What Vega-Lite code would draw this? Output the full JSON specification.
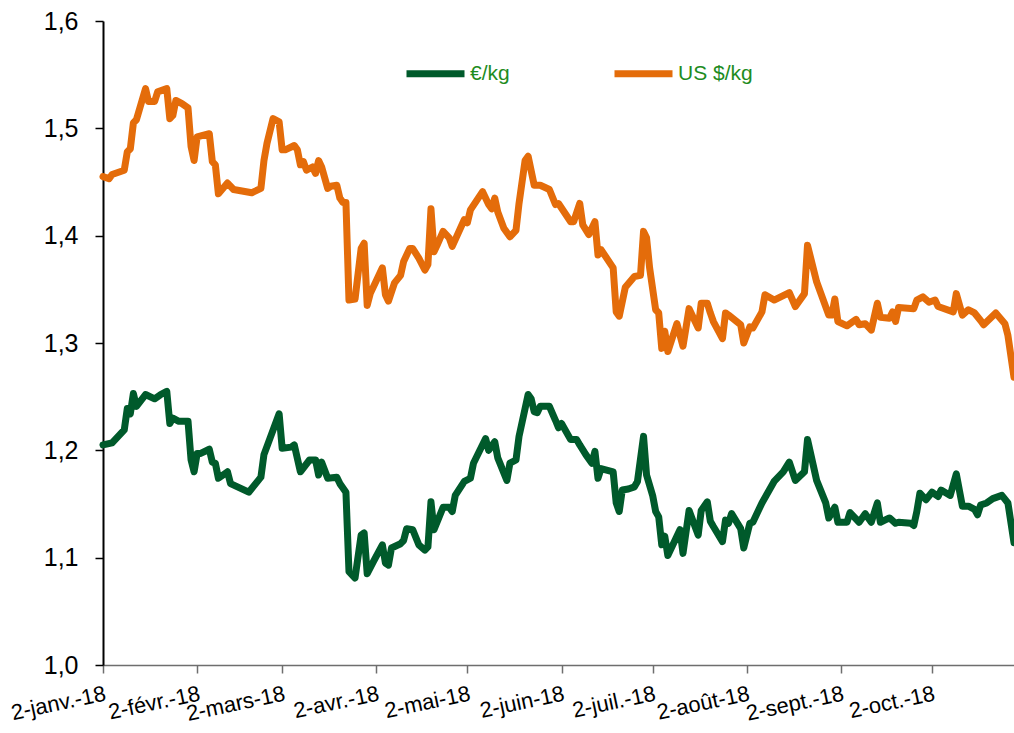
{
  "$schema": "https://vega.github.io/schema/vega-lite/v6.json",
  "width": 911,
  "height": 644,
  "autosize": {"type": "none"},
  "padding": {"left": 103, "top": 21, "right": 0, "bottom": 68},
  "background": "white",
  "config": {"view": {"stroke": null}, "font": "Liberation Sans"},
  "data": {"values": [
{"series":"US $/kg","date":"2018-01-02","value":1.455},{"series":"US $/kg","date":"2018-01-04","value":1.453},{"series":"US $/kg","date":"2018-01-05","value":1.457},{"series":"US $/kg","date":"2018-01-09","value":1.461},{"series":"US $/kg","date":"2018-01-10","value":1.478},{"series":"US $/kg","date":"2018-01-11","value":1.481},{"series":"US $/kg","date":"2018-01-12","value":1.505},{"series":"US $/kg","date":"2018-01-13","value":1.508},{"series":"US $/kg","date":"2018-01-16","value":1.537},{"series":"US $/kg","date":"2018-01-17","value":1.525},{"series":"US $/kg","date":"2018-01-19","value":1.525},{"series":"US $/kg","date":"2018-01-20","value":1.534},{"series":"US $/kg","date":"2018-01-23","value":1.537},{"series":"US $/kg","date":"2018-01-24","value":1.509},{"series":"US $/kg","date":"2018-01-25","value":1.512},{"series":"US $/kg","date":"2018-01-26","value":1.526},{"series":"US $/kg","date":"2018-01-28","value":1.523},{"series":"US $/kg","date":"2018-01-30","value":1.519},{"series":"US $/kg","date":"2018-01-31","value":1.483},{"series":"US $/kg","date":"2018-02-01","value":1.470},{"series":"US $/kg","date":"2018-02-02","value":1.492},{"series":"US $/kg","date":"2018-02-06","value":1.495},{"series":"US $/kg","date":"2018-02-07","value":1.469},{"series":"US $/kg","date":"2018-02-08","value":1.466},{"series":"US $/kg","date":"2018-02-09","value":1.439},{"series":"US $/kg","date":"2018-02-12","value":1.449},{"series":"US $/kg","date":"2018-02-14","value":1.443},{"series":"US $/kg","date":"2018-02-20","value":1.440},{"series":"US $/kg","date":"2018-02-23","value":1.444},{"series":"US $/kg","date":"2018-02-24","value":1.470},{"series":"US $/kg","date":"2018-02-25","value":1.486},{"series":"US $/kg","date":"2018-02-27","value":1.509},{"series":"US $/kg","date":"2018-03-01","value":1.506},{"series":"US $/kg","date":"2018-03-02","value":1.480},{"series":"US $/kg","date":"2018-03-03","value":1.480},{"series":"US $/kg","date":"2018-03-06","value":1.484},{"series":"US $/kg","date":"2018-03-07","value":1.480},{"series":"US $/kg","date":"2018-03-08","value":1.466},{"series":"US $/kg","date":"2018-03-09","value":1.469},{"series":"US $/kg","date":"2018-03-10","value":1.461},{"series":"US $/kg","date":"2018-03-12","value":1.464},{"series":"US $/kg","date":"2018-03-13","value":1.458},{"series":"US $/kg","date":"2018-03-14","value":1.470},{"series":"US $/kg","date":"2018-03-15","value":1.464},{"series":"US $/kg","date":"2018-03-17","value":1.444},{"series":"US $/kg","date":"2018-03-18","value":1.446},{"series":"US $/kg","date":"2018-03-20","value":1.447},{"series":"US $/kg","date":"2018-03-21","value":1.435},{"series":"US $/kg","date":"2018-03-22","value":1.431},{"series":"US $/kg","date":"2018-03-23","value":1.431},{"series":"US $/kg","date":"2018-03-24","value":1.340},{"series":"US $/kg","date":"2018-03-26","value":1.341},{"series":"US $/kg","date":"2018-03-28","value":1.388},{"series":"US $/kg","date":"2018-03-29","value":1.393},{"series":"US $/kg","date":"2018-03-30","value":1.335},{"series":"US $/kg","date":"2018-03-31","value":1.346},{"series":"US $/kg","date":"2018-04-04","value":1.370},{"series":"US $/kg","date":"2018-04-05","value":1.345},{"series":"US $/kg","date":"2018-04-06","value":1.339},{"series":"US $/kg","date":"2018-04-08","value":1.356},{"series":"US $/kg","date":"2018-04-10","value":1.363},{"series":"US $/kg","date":"2018-04-11","value":1.376},{"series":"US $/kg","date":"2018-04-13","value":1.388},{"series":"US $/kg","date":"2018-04-14","value":1.388},{"series":"US $/kg","date":"2018-04-16","value":1.379},{"series":"US $/kg","date":"2018-04-18","value":1.368},{"series":"US $/kg","date":"2018-04-19","value":1.373},{"series":"US $/kg","date":"2018-04-20","value":1.425},{"series":"US $/kg","date":"2018-04-21","value":1.385},{"series":"US $/kg","date":"2018-04-22","value":1.391},{"series":"US $/kg","date":"2018-04-24","value":1.404},{"series":"US $/kg","date":"2018-04-26","value":1.398},{"series":"US $/kg","date":"2018-04-27","value":1.390},{"series":"US $/kg","date":"2018-05-01","value":1.415},{"series":"US $/kg","date":"2018-05-02","value":1.412},{"series":"US $/kg","date":"2018-05-03","value":1.424},{"series":"US $/kg","date":"2018-05-07","value":1.441},{"series":"US $/kg","date":"2018-05-09","value":1.429},{"series":"US $/kg","date":"2018-05-10","value":1.425},{"series":"US $/kg","date":"2018-05-11","value":1.435},{"series":"US $/kg","date":"2018-05-12","value":1.422},{"series":"US $/kg","date":"2018-05-14","value":1.407},{"series":"US $/kg","date":"2018-05-16","value":1.399},{"series":"US $/kg","date":"2018-05-18","value":1.405},{"series":"US $/kg","date":"2018-05-19","value":1.430},{"series":"US $/kg","date":"2018-05-21","value":1.470},{"series":"US $/kg","date":"2018-05-22","value":1.474},{"series":"US $/kg","date":"2018-05-24","value":1.447},{"series":"US $/kg","date":"2018-05-26","value":1.447},{"series":"US $/kg","date":"2018-05-29","value":1.443},{"series":"US $/kg","date":"2018-05-31","value":1.429},{"series":"US $/kg","date":"2018-06-01","value":1.430},{"series":"US $/kg","date":"2018-06-05","value":1.413},{"series":"US $/kg","date":"2018-06-06","value":1.413},{"series":"US $/kg","date":"2018-06-08","value":1.430},{"series":"US $/kg","date":"2018-06-09","value":1.410},{"series":"US $/kg","date":"2018-06-11","value":1.401},{"series":"US $/kg","date":"2018-06-13","value":1.413},{"series":"US $/kg","date":"2018-06-14","value":1.382},{"series":"US $/kg","date":"2018-06-15","value":1.387},{"series":"US $/kg","date":"2018-06-19","value":1.370},{"series":"US $/kg","date":"2018-06-20","value":1.329},{"series":"US $/kg","date":"2018-06-21","value":1.325},{"series":"US $/kg","date":"2018-06-23","value":1.352},{"series":"US $/kg","date":"2018-06-26","value":1.362},{"series":"US $/kg","date":"2018-06-28","value":1.363},{"series":"US $/kg","date":"2018-06-29","value":1.404},{"series":"US $/kg","date":"2018-06-30","value":1.398},{"series":"US $/kg","date":"2018-07-01","value":1.370},{"series":"US $/kg","date":"2018-07-03","value":1.331},{"series":"US $/kg","date":"2018-07-04","value":1.328},{"series":"US $/kg","date":"2018-07-05","value":1.295},{"series":"US $/kg","date":"2018-07-06","value":1.311},{"series":"US $/kg","date":"2018-07-07","value":1.292},{"series":"US $/kg","date":"2018-07-10","value":1.318},{"series":"US $/kg","date":"2018-07-12","value":1.297},{"series":"US $/kg","date":"2018-07-14","value":1.332},{"series":"US $/kg","date":"2018-07-17","value":1.314},{"series":"US $/kg","date":"2018-07-18","value":1.337},{"series":"US $/kg","date":"2018-07-20","value":1.337},{"series":"US $/kg","date":"2018-07-21","value":1.328},{"series":"US $/kg","date":"2018-07-22","value":1.320},{"series":"US $/kg","date":"2018-07-25","value":1.304},{"series":"US $/kg","date":"2018-07-26","value":1.328},{"series":"US $/kg","date":"2018-07-27","value":1.326},{"series":"US $/kg","date":"2018-07-31","value":1.317},{"series":"US $/kg","date":"2018-08-01","value":1.300},{"series":"US $/kg","date":"2018-08-03","value":1.315},{"series":"US $/kg","date":"2018-08-04","value":1.314},{"series":"US $/kg","date":"2018-08-07","value":1.329},{"series":"US $/kg","date":"2018-08-08","value":1.345},{"series":"US $/kg","date":"2018-08-11","value":1.340},{"series":"US $/kg","date":"2018-08-16","value":1.347},{"series":"US $/kg","date":"2018-08-18","value":1.334},{"series":"US $/kg","date":"2018-08-21","value":1.346},{"series":"US $/kg","date":"2018-08-22","value":1.391},{"series":"US $/kg","date":"2018-08-25","value":1.357},{"series":"US $/kg","date":"2018-08-29","value":1.326},{"series":"US $/kg","date":"2018-08-30","value":1.326},{"series":"US $/kg","date":"2018-08-31","value":1.341},{"series":"US $/kg","date":"2018-09-01","value":1.320},{"series":"US $/kg","date":"2018-09-04","value":1.316},{"series":"US $/kg","date":"2018-09-05","value":1.318},{"series":"US $/kg","date":"2018-09-07","value":1.322},{"series":"US $/kg","date":"2018-09-08","value":1.317},{"series":"US $/kg","date":"2018-09-10","value":1.318},{"series":"US $/kg","date":"2018-09-12","value":1.312},{"series":"US $/kg","date":"2018-09-14","value":1.337},{"series":"US $/kg","date":"2018-09-15","value":1.324},{"series":"US $/kg","date":"2018-09-18","value":1.323},{"series":"US $/kg","date":"2018-09-19","value":1.329},{"series":"US $/kg","date":"2018-09-20","value":1.320},{"series":"US $/kg","date":"2018-09-21","value":1.333},{"series":"US $/kg","date":"2018-09-26","value":1.332},{"series":"US $/kg","date":"2018-09-27","value":1.340},{"series":"US $/kg","date":"2018-09-29","value":1.343},{"series":"US $/kg","date":"2018-10-01","value":1.338},{"series":"US $/kg","date":"2018-10-03","value":1.340},{"series":"US $/kg","date":"2018-10-04","value":1.334},{"series":"US $/kg","date":"2018-10-09","value":1.329},{"series":"US $/kg","date":"2018-10-10","value":1.346},{"series":"US $/kg","date":"2018-10-12","value":1.326},{"series":"US $/kg","date":"2018-10-14","value":1.331},{"series":"US $/kg","date":"2018-10-16","value":1.328},{"series":"US $/kg","date":"2018-10-18","value":1.321},{"series":"US $/kg","date":"2018-10-19","value":1.317},{"series":"US $/kg","date":"2018-10-23","value":1.328},{"series":"US $/kg","date":"2018-10-26","value":1.318},{"series":"US $/kg","date":"2018-10-27","value":1.307},{"series":"US $/kg","date":"2018-10-29","value":1.268},
{"series":"€/kg","date":"2018-01-02","value":1.205},{"series":"€/kg","date":"2018-01-05","value":1.207},{"series":"€/kg","date":"2018-01-06","value":1.210},{"series":"€/kg","date":"2018-01-09","value":1.219},{"series":"€/kg","date":"2018-01-10","value":1.239},{"series":"€/kg","date":"2018-01-11","value":1.234},{"series":"€/kg","date":"2018-01-12","value":1.253},{"series":"€/kg","date":"2018-01-13","value":1.241},{"series":"€/kg","date":"2018-01-16","value":1.252},{"series":"€/kg","date":"2018-01-19","value":1.248},{"series":"€/kg","date":"2018-01-21","value":1.252},{"series":"€/kg","date":"2018-01-23","value":1.255},{"series":"€/kg","date":"2018-01-24","value":1.225},{"series":"€/kg","date":"2018-01-25","value":1.230},{"series":"€/kg","date":"2018-01-27","value":1.227},{"series":"€/kg","date":"2018-01-30","value":1.227},{"series":"€/kg","date":"2018-01-31","value":1.191},{"series":"€/kg","date":"2018-02-01","value":1.180},{"series":"€/kg","date":"2018-02-02","value":1.197},{"series":"€/kg","date":"2018-02-03","value":1.197},{"series":"€/kg","date":"2018-02-06","value":1.201},{"series":"€/kg","date":"2018-02-07","value":1.189},{"series":"€/kg","date":"2018-02-08","value":1.188},{"series":"€/kg","date":"2018-02-09","value":1.174},{"series":"€/kg","date":"2018-02-12","value":1.180},{"series":"€/kg","date":"2018-02-13","value":1.169},{"series":"€/kg","date":"2018-02-19","value":1.161},{"series":"€/kg","date":"2018-02-23","value":1.175},{"series":"€/kg","date":"2018-02-24","value":1.196},{"series":"€/kg","date":"2018-03-01","value":1.234},{"series":"€/kg","date":"2018-03-02","value":1.202},{"series":"€/kg","date":"2018-03-05","value":1.203},{"series":"€/kg","date":"2018-03-06","value":1.205},{"series":"€/kg","date":"2018-03-08","value":1.180},{"series":"€/kg","date":"2018-03-11","value":1.191},{"series":"€/kg","date":"2018-03-13","value":1.191},{"series":"€/kg","date":"2018-03-14","value":1.177},{"series":"€/kg","date":"2018-03-15","value":1.189},{"series":"€/kg","date":"2018-03-17","value":1.174},{"series":"€/kg","date":"2018-03-20","value":1.175},{"series":"€/kg","date":"2018-03-21","value":1.169},{"series":"€/kg","date":"2018-03-23","value":1.161},{"series":"€/kg","date":"2018-03-24","value":1.087},{"series":"€/kg","date":"2018-03-26","value":1.081},{"series":"€/kg","date":"2018-03-28","value":1.121},{"series":"€/kg","date":"2018-03-29","value":1.123},{"series":"€/kg","date":"2018-03-30","value":1.085},{"series":"€/kg","date":"2018-04-01","value":1.096},{"series":"€/kg","date":"2018-04-04","value":1.112},{"series":"€/kg","date":"2018-04-05","value":1.095},{"series":"€/kg","date":"2018-04-06","value":1.093},{"series":"€/kg","date":"2018-04-07","value":1.109},{"series":"€/kg","date":"2018-04-10","value":1.113},{"series":"€/kg","date":"2018-04-11","value":1.116},{"series":"€/kg","date":"2018-04-12","value":1.127},{"series":"€/kg","date":"2018-04-14","value":1.126},{"series":"€/kg","date":"2018-04-16","value":1.112},{"series":"€/kg","date":"2018-04-18","value":1.107},{"series":"€/kg","date":"2018-04-19","value":1.110},{"series":"€/kg","date":"2018-04-20","value":1.152},{"series":"€/kg","date":"2018-04-21","value":1.126},{"series":"€/kg","date":"2018-04-24","value":1.147},{"series":"€/kg","date":"2018-04-26","value":1.147},{"series":"€/kg","date":"2018-04-27","value":1.143},{"series":"€/kg","date":"2018-04-28","value":1.158},{"series":"€/kg","date":"2018-05-01","value":1.171},{"series":"€/kg","date":"2018-05-03","value":1.174},{"series":"€/kg","date":"2018-05-04","value":1.188},{"series":"€/kg","date":"2018-05-08","value":1.211},{"series":"€/kg","date":"2018-05-09","value":1.200},{"series":"€/kg","date":"2018-05-11","value":1.208},{"series":"€/kg","date":"2018-05-12","value":1.193},{"series":"€/kg","date":"2018-05-15","value":1.172},{"series":"€/kg","date":"2018-05-16","value":1.188},{"series":"€/kg","date":"2018-05-18","value":1.191},{"series":"€/kg","date":"2018-05-19","value":1.213},{"series":"€/kg","date":"2018-05-22","value":1.252},{"series":"€/kg","date":"2018-05-23","value":1.248},{"series":"€/kg","date":"2018-05-24","value":1.236},{"series":"€/kg","date":"2018-05-25","value":1.235},{"series":"€/kg","date":"2018-05-26","value":1.241},{"series":"€/kg","date":"2018-05-29","value":1.241},{"series":"€/kg","date":"2018-05-31","value":1.228},{"series":"€/kg","date":"2018-06-01","value":1.221},{"series":"€/kg","date":"2018-06-02","value":1.225},{"series":"€/kg","date":"2018-06-05","value":1.210},{"series":"€/kg","date":"2018-06-07","value":1.210},{"series":"€/kg","date":"2018-06-08","value":1.205},{"series":"€/kg","date":"2018-06-10","value":1.196},{"series":"€/kg","date":"2018-06-12","value":1.188},{"series":"€/kg","date":"2018-06-13","value":1.199},{"series":"€/kg","date":"2018-06-14","value":1.174},{"series":"€/kg","date":"2018-06-15","value":1.183},{"series":"€/kg","date":"2018-06-19","value":1.180},{"series":"€/kg","date":"2018-06-20","value":1.151},{"series":"€/kg","date":"2018-06-21","value":1.143},{"series":"€/kg","date":"2018-06-22","value":1.163},{"series":"€/kg","date":"2018-06-24","value":1.164},{"series":"€/kg","date":"2018-06-26","value":1.166},{"series":"€/kg","date":"2018-06-27","value":1.171},{"series":"€/kg","date":"2018-06-29","value":1.213},{"series":"€/kg","date":"2018-06-30","value":1.177},{"series":"€/kg","date":"2018-07-02","value":1.158},{"series":"€/kg","date":"2018-07-03","value":1.143},{"series":"€/kg","date":"2018-07-04","value":1.138},{"series":"€/kg","date":"2018-07-05","value":1.112},{"series":"€/kg","date":"2018-07-06","value":1.120},{"series":"€/kg","date":"2018-07-07","value":1.102},{"series":"€/kg","date":"2018-07-11","value":1.126},{"series":"€/kg","date":"2018-07-12","value":1.104},{"series":"€/kg","date":"2018-07-14","value":1.144},{"series":"€/kg","date":"2018-07-17","value":1.121},{"series":"€/kg","date":"2018-07-18","value":1.144},{"series":"€/kg","date":"2018-07-20","value":1.152},{"series":"€/kg","date":"2018-07-21","value":1.134},{"series":"€/kg","date":"2018-07-22","value":1.129},{"series":"€/kg","date":"2018-07-25","value":1.115},{"series":"€/kg","date":"2018-07-26","value":1.135},{"series":"€/kg","date":"2018-07-27","value":1.132},{"series":"€/kg","date":"2018-07-28","value":1.141},{"series":"€/kg","date":"2018-07-31","value":1.127},{"series":"€/kg","date":"2018-08-01","value":1.109},{"series":"€/kg","date":"2018-08-03","value":1.132},{"series":"€/kg","date":"2018-08-04","value":1.133},{"series":"€/kg","date":"2018-08-07","value":1.151},{"series":"€/kg","date":"2018-08-11","value":1.171},{"series":"€/kg","date":"2018-08-14","value":1.180},{"series":"€/kg","date":"2018-08-16","value":1.189},{"series":"€/kg","date":"2018-08-18","value":1.172},{"series":"€/kg","date":"2018-08-21","value":1.180},{"series":"€/kg","date":"2018-08-22","value":1.210},{"series":"€/kg","date":"2018-08-25","value":1.172},{"series":"€/kg","date":"2018-08-28","value":1.151},{"series":"€/kg","date":"2018-08-29","value":1.137},{"series":"€/kg","date":"2018-08-31","value":1.147},{"series":"€/kg","date":"2018-09-01","value":1.133},{"series":"€/kg","date":"2018-09-04","value":1.133},{"series":"€/kg","date":"2018-09-05","value":1.142},{"series":"€/kg","date":"2018-09-08","value":1.133},{"series":"€/kg","date":"2018-09-10","value":1.141},{"series":"€/kg","date":"2018-09-12","value":1.133},{"series":"€/kg","date":"2018-09-14","value":1.151},{"series":"€/kg","date":"2018-09-15","value":1.133},{"series":"€/kg","date":"2018-09-18","value":1.137},{"series":"€/kg","date":"2018-09-20","value":1.132},{"series":"€/kg","date":"2018-09-21","value":1.133},{"series":"€/kg","date":"2018-09-25","value":1.132},{"series":"€/kg","date":"2018-09-26","value":1.130},{"series":"€/kg","date":"2018-09-27","value":1.143},{"series":"€/kg","date":"2018-09-28","value":1.160},{"series":"€/kg","date":"2018-09-30","value":1.154},{"series":"€/kg","date":"2018-10-02","value":1.161},{"series":"€/kg","date":"2018-10-04","value":1.157},{"series":"€/kg","date":"2018-10-05","value":1.163},{"series":"€/kg","date":"2018-10-08","value":1.158},{"series":"€/kg","date":"2018-10-10","value":1.178},{"series":"€/kg","date":"2018-10-12","value":1.148},{"series":"€/kg","date":"2018-10-14","value":1.148},{"series":"€/kg","date":"2018-10-16","value":1.145},{"series":"€/kg","date":"2018-10-17","value":1.140},{"series":"€/kg","date":"2018-10-18","value":1.149},{"series":"€/kg","date":"2018-10-20","value":1.151},{"series":"€/kg","date":"2018-10-22","value":1.155},{"series":"€/kg","date":"2018-10-25","value":1.158},{"series":"€/kg","date":"2018-10-27","value":1.151},{"series":"€/kg","date":"2018-10-29","value":1.114}
  ]},
  "mark": {"type": "line", "strokeWidth": 7, "strokeJoin": "round", "strokeCap": "round"},
  "encoding": {
    "x": {
      "field": "date",
      "type": "temporal",
      "scale": {
        "type": "utc",
        "domain": [
          {"year": 2018, "month": 1, "date": 2, "utc": true},
          {"year": 2018, "month": 10, "date": 29, "utc": true}
        ]
      },
      "axis": {
        "title": null,
        "grid": false,
        "values": [
          {"year": 2018, "month": 1, "date": 2, "utc": true},
          {"year": 2018, "month": 2, "date": 2, "utc": true},
          {"year": 2018, "month": 3, "date": 2, "utc": true},
          {"year": 2018, "month": 4, "date": 2, "utc": true},
          {"year": 2018, "month": 5, "date": 2, "utc": true},
          {"year": 2018, "month": 6, "date": 2, "utc": true},
          {"year": 2018, "month": 7, "date": 2, "utc": true},
          {"year": 2018, "month": 8, "date": 2, "utc": true},
          {"year": 2018, "month": 9, "date": 2, "utc": true},
          {"year": 2018, "month": 10, "date": 2, "utc": true}
        ],
        "labelExpr": "utcdate(datum.value) + '-' + ['janv.','févr.','mars','avr.','mai','juin','juil.','août','sept.','oct.','nov.','déc.'][utcmonth(datum.value)] + '-18'",
        "labelAngle": -12,
        "labelAlign": "right",
        "labelBaseline": "top",
        "labelFontSize": 22,
        "labelFont": "Liberation Sans",
        "labelColor": "#000000",
        "labelPadding": 10,
        "labelOverlap": false,
        "labelFlush": false,
        "labelBound": false,
        "tickSize": 8,
        "tickWidth": 1.5,
        "tickColor": "#6e6e6e",
        "domainColor": "#6e6e6e",
        "domainWidth": 1.5
      }
    },
    "y": {
      "field": "value",
      "type": "quantitative",
      "scale": {"domain": [1.0, 1.6], "nice": false, "zero": false},
      "axis": {
        "title": null,
        "grid": false,
        "values": [1.0, 1.1, 1.2, 1.3, 1.4, 1.5, 1.6],
        "labelExpr": "replace(format(datum.value, '.1f'), '.', ',')",
        "labelFontSize": 25,
        "labelFont": "Liberation Sans",
        "labelColor": "#000000",
        "labelPadding": 17,
        "tickSize": 8,
        "tickWidth": 1.5,
        "tickColor": "#000000",
        "domainColor": "#000000",
        "domainWidth": 2
      }
    },
    "color": {
      "field": "series",
      "type": "nominal",
      "scale": {"domain": ["€/kg", "US $/kg"], "range": ["#005a2b", "#e46c0a"]},
      "legend": {
        "orient": "none",
        "legendX": 300,
        "legendY": 20,
        "direction": "horizontal",
        "title": null,
        "padding": 0,
        "symbolType": "stroke",
        "symbolSize": 3364,
        "symbolStrokeWidth": 7,
        "symbolOpacity": 1,
        "labelFontSize": 21,
        "labelFont": "Liberation Sans",
        "labelColor": "#1e8c1e",
        "labelOffset": 2,
        "columnPadding": 90
      }
    }
  }
}
